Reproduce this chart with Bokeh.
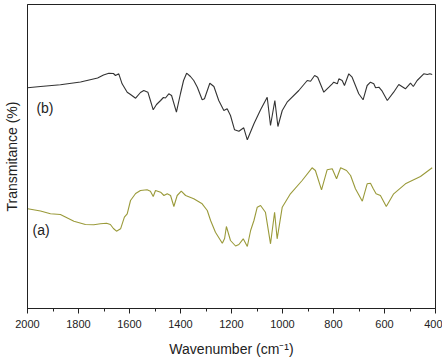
from bokeh.plotting import figure
from bokeh.models import Range1d, SingleIntervalTicker, FixedTicker, Label
from bokeh.embed import file_html
from bokeh.resources import INLINE

# Spectrum (b) – wavenumber (cm-1) and transmittance (a.u.)
wn_b = [2000, 1949, 1871, 1792, 1725, 1702, 1681, 1663, 1655, 1642, 1629, 1609, 1596,
        1576, 1557, 1544, 1528, 1518, 1507, 1494, 1478, 1467, 1459, 1446, 1435, 1416,
        1400, 1388, 1376, 1361, 1348, 1334, 1315, 1306, 1285, 1269, 1250, 1230, 1217,
        1204, 1188, 1171, 1152, 1138, 1112, 1086, 1060, 1047, 1030, 1018, 1001, 982,
        936, 903, 890, 874, 862, 838, 818, 805, 799, 785, 779, 766, 757, 740, 727, 714,
        701, 684, 668, 655, 642, 635, 622, 609, 589, 564, 544, 518, 498, 487, 472, 446,
        432, 422, 413]
t_b = [220.7, 222, 223.7, 226.5, 230.5, 233.5, 235.3, 235, 233, 234.7, 224.7, 216.3, 214,
       210.3, 216, 218, 216.3, 208, 198.7, 204, 208, 211, 210.5, 214.7, 213, 196.3,
       215, 228, 235.3, 232, 228, 221.3, 208.7, 209.7, 225.3, 222, 208, 198, 199.7,
       193, 178.7, 177.3, 180.7, 168.7, 184.7, 198.7, 211.3, 183, 208, 182, 198, 206.3,
       218, 228, 227.3, 233, 231.3, 216.3, 221.3, 224.7, 226.3, 224.7, 229.7, 228, 223, 234.7, 231.3, 223,
       214.7, 208.7, 223, 226.3, 224.7, 220.7, 221.3, 217.3, 208, 216.3, 224, 219.7, 225.3, 222, 228, 234.7,
       234, 234.7, 234]

# Spectrum (a)
wn_a = [1999, 1949, 1910, 1871, 1818, 1773, 1740, 1714, 1690, 1675, 1663, 1651, 1635,
        1620, 1609, 1596, 1576, 1557, 1531, 1518, 1507, 1498, 1478, 1465, 1452, 1439,
        1426, 1413, 1397, 1380, 1348, 1315, 1295, 1282, 1263, 1236, 1227, 1220, 1204,
        1184, 1171, 1154, 1138, 1125, 1112, 1099, 1086, 1067, 1047, 1031, 1021, 1001,
        969, 923, 884, 871, 847, 825, 805, 788, 772, 749, 733, 714, 687, 668, 655, 644,
        633, 616, 593, 564, 518, 459, 413]
t_a = [99.7, 97.5, 94.7, 94, 87.3, 84, 83.7, 84.7, 85.3, 84, 80, 77.3, 79.7,
       91.3, 94.7, 108, 115, 118, 118.7, 117.3, 112, 118, 116.3, 113, 114.7, 113,
       102, 113, 117.3, 113, 109.7, 104.7, 98, 88, 76.3, 65.3, 70, 82, 68,
       62.5, 64, 69.7, 62, 78, 88, 101.3, 103, 96.3, 64.7, 96.3, 69.7, 101.3,
       114.7, 128, 140.7, 138, 118.7, 138.7, 139.7, 129.7, 140.7, 138, 133, 119.7, 107.3, 124.7, 125.3, 119.7,
       114.7, 113, 102, 114.7, 124.7, 132, 140.7]

x_ticks_interval = 200

p = figure(width=442, height=359, output_backend="svg", toolbar_location=None,
           x_range=Range1d(2000, 400), y_range=Range1d(0, 304),
           min_border_left=27, min_border_right=7, min_border_top=4, min_border_bottom=51)
p.background_fill_color = "white"
p.border_fill_color = "white"
p.grid.visible = False
p.outline_line_color = "#222222"
p.outline_line_width = 1

p.line(wn_b, t_b, line_color="#333333", line_width=1.1)
p.line(wn_a, t_a, line_color="#9a9a3a", line_width=1.1)

xa = p.xaxis[0]
xa.ticker = SingleIntervalTicker(interval=x_ticks_interval, num_minor_ticks=2)
xa.major_tick_in = 0
xa.major_tick_out = 5
xa.minor_tick_in = 0
xa.minor_tick_out = 3
xa.axis_line_color = "#222222"
xa.major_tick_line_color = "#222222"
xa.minor_tick_line_color = "#222222"
xa.major_label_text_font = "Liberation Sans"
xa.major_label_text_font_size = "11px"
xa.major_label_text_color = "#222222"
xa.major_label_standoff = 6
xa.axis_label = "Wavenumber (cm\u207b\u00b9)"
xa.axis_label_text_font = "Liberation Sans"
xa.axis_label_text_font_size = "14px"
xa.axis_label_text_font_style = "normal"
xa.axis_label_text_color = "#222222"
xa.axis_label_standoff = 10

ya = p.yaxis[0]
ya.ticker = FixedTicker(ticks=[])
ya.major_tick_line_color = None
ya.minor_tick_line_color = None
ya.axis_line_color = "#222222"
ya.major_label_text_font_size = "0px"
ya.axis_label = "Transmitance (%)"
ya.axis_label_text_font = "Liberation Sans"
ya.axis_label_text_font_size = "14px"
ya.axis_label_text_font_style = "normal"
ya.axis_label_text_color = "#222222"
ya.axis_label_text_line_height = 1.0
ya.axis_label_standoff = 8

p.add_layout(Label(x=1965, y=201, text="(b)", text_font="Liberation Sans",
                   text_font_size="14px", text_color="#222222", text_baseline="middle"))
p.add_layout(Label(x=1980, y=79, text="(a)", text_font="Liberation Sans",
                   text_font_size="14px", text_color="#222222", text_baseline="middle"))

open("out.html", "w").write(file_html(p, INLINE))
